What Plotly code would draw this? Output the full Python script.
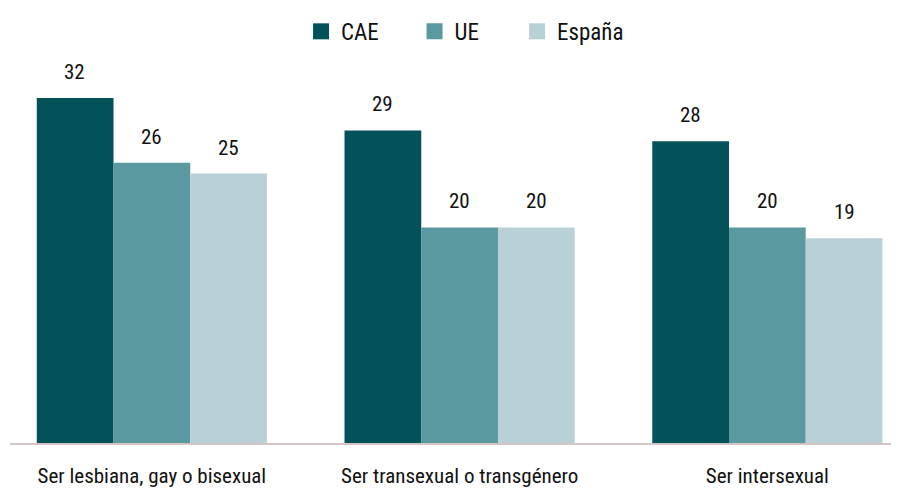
import plotly.graph_objects as go

categories = ["Ser lesbiana, gay o bisexual", "Ser transexual o transgénero", "Ser intersexual"]
series_names = ["CAE", "UE", "España"]
cae = [32, 29, 28]
ue = [26, 20, 20]
espana = [25, 20, 19]
colors = ["#03525a", "#5a99a0", "#b7d1d6"]

FONT = "Roboto Condensed, Liberation Sans Narrow, sans-serif"
values = [cae, ue, espana]

fig = go.Figure()
for name, vals, col in zip(series_names, values, colors):
    fig.add_trace(go.Bar(name=name, x=categories, y=vals, showlegend=False,
                         marker=dict(color=col, line=dict(width=0))))
# legend entries (square swatches), one legend each for exact placement
legend_ids = ["legend", "legend2", "legend3"]
legend_x = [0.3285, 0.4566, 0.5723]
for name, col, lid in zip(series_names, colors, legend_ids):
    fig.add_trace(go.Scatter(name=name, x=[None], y=[None], mode="markers", legend=lid,
                             marker=dict(symbol="square", size=16, color=col), showlegend=True))

bar_px = 77
for i, vals in enumerate(values):
    for c, v in zip(categories, vals):
        fig.add_annotation(x=c, y=v, text=str(v), showarrow=False, yanchor="bottom",
                           xshift=(i - 1) * bar_px, yshift=12,
                           font=dict(family=FONT, size=21, color="#111111"))

legend_style = dict(orientation="h", xanchor="left", y=1.0636, yanchor="middle",
                    font=dict(family=FONT, size=23, color="#111111"), itemwidth=30,
                    bgcolor="rgba(0,0,0,0)", borderwidth=0)
fig.update_layout(
    width=899, height=490,
    margin=dict(l=2, r=11, t=42, b=55),
    paper_bgcolor="white", plot_bgcolor="white",
    barmode="group", bargap=0.252, bargroupgap=0,
    font=dict(family=FONT, size=21, color="#111111"),
    legend=dict(x=legend_x[0], **legend_style),
    legend2=dict(x=legend_x[1], **legend_style),
    legend3=dict(x=legend_x[2], **legend_style),
    showlegend=True,
)
fig.update_xaxes(range=[-0.461, 2.418], showline=True, linecolor="#d3c5c5", linewidth=2,
                 ticks="", showgrid=False, ticklabelstandoff=13, automargin=False,
                 tickfont=dict(family=FONT, size=21, color="#111111"))
fig.update_yaxes(range=[0, 35.9], showgrid=False, showticklabels=False, zeroline=False,
                 showline=False, automargin=False)

fig.write_html("out.html")
